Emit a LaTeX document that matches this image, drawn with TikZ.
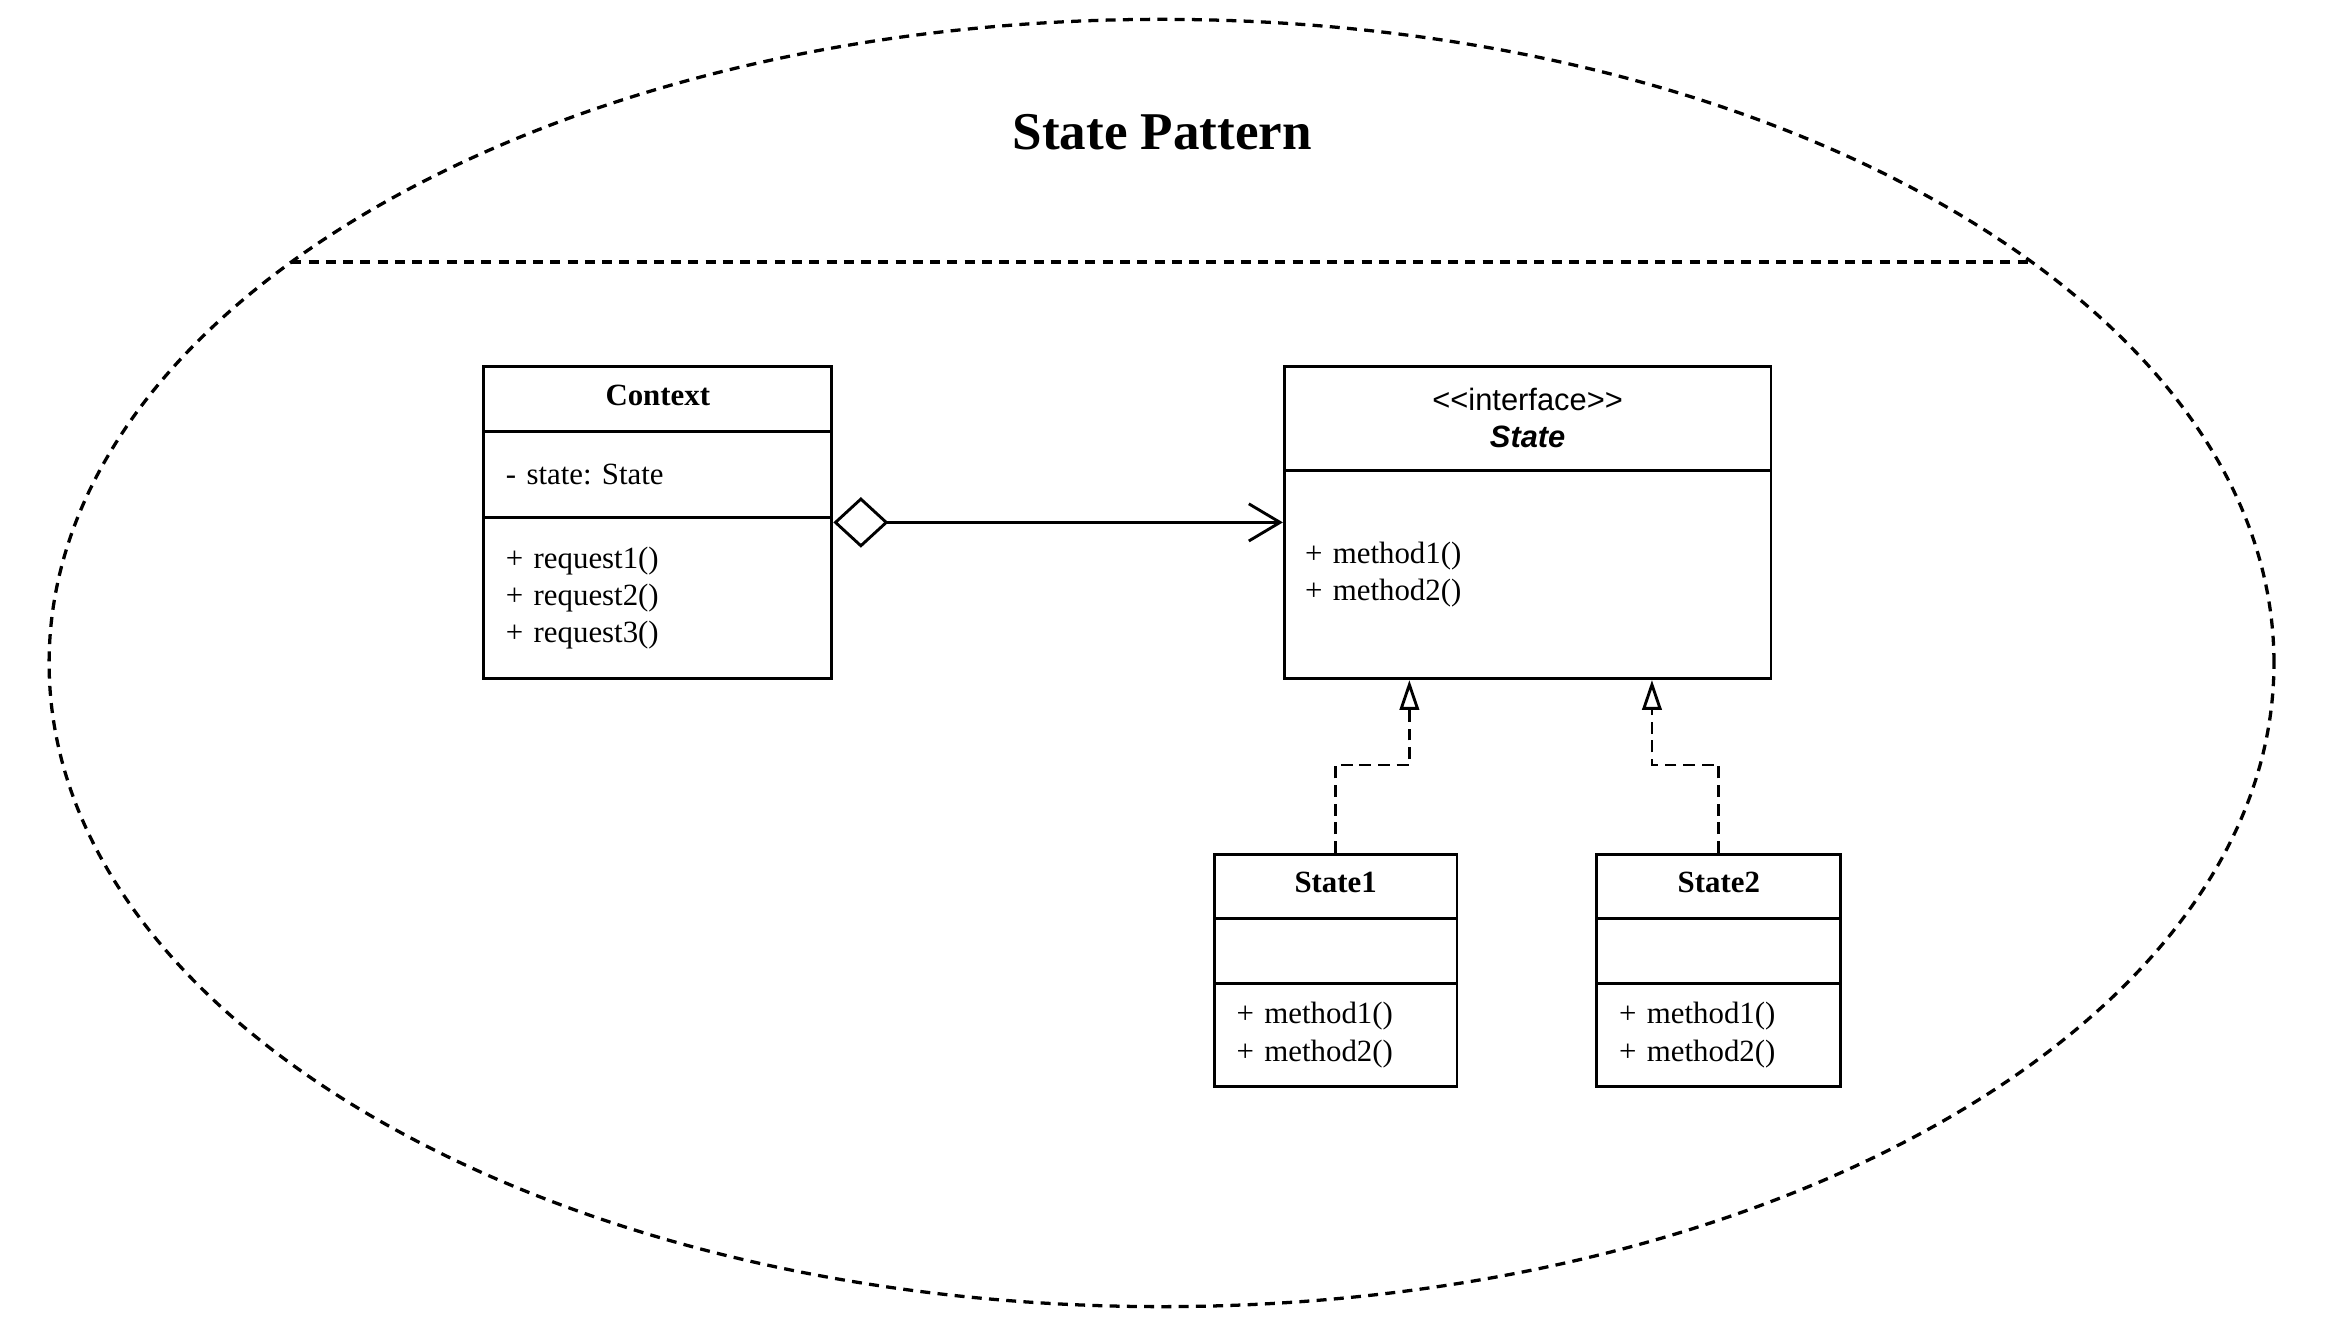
\documentclass[tikz,border=0pt]{standalone}
\usepackage{fontspec}
\setmainfont{Liberation Serif}
\setsansfont{Liberation Sans}
\frenchspacing
\usepackage{tikz}
\usetikzlibrary{arrows.meta}
\pgfdeclarelayer{bg}
\pgfsetlayers{bg,main}
\tikzset{
    every node/.style={inner sep=0mm, font=\fontsize{11.8}{14.2}\selectfont}
}
\tikzset{box/.style={rectangle, draw, line width=1.1pt}}
\tikzset{classname/.style={box, font=\fontsize{11.8}{14.2}\selectfont\bfseries, text depth=0.6ex}}
\tikzset{members/.style={box, align=left, inner xsep=3mm}}
\tikzset{aggr/.style={line width=1.1pt, arrows={Diamond[open,length=7.4mm,width=6.8mm]-Straight Barb[length=4.2mm,width=5mm]}}}
\tikzset{realize/.style={line width=1.1pt, dash pattern=on 1.6mm off 0.9mm, arrows={-Triangle[open,length=4mm,width=2.6mm]}}}
\tikzset{frame/.style={line width=1.25pt, dash pattern=on 1.34mm off 0.98mm}}

\begin{document}
\begin{tikzpicture}
        \useasboundingbox (0cm, 0cm) rectangle (31.34cm, -17.713cm);
        \draw [frame] (15.61cm, -8.91cm) ellipse [x radius=14.95cm, y radius=8.65cm];
        \coordinate (sepL) at (3.916cm, -3.52cm);
        \coordinate (sepR) at (27.304cm, -3.52cm);
        \draw [frame] (sepL) -- (sepR);
        \node (title) [font=\fontsize{20.3}{24}\selectfont\bfseries] at (15.62cm, -1.78cm) {State Pattern};

        \node (ctx) [classname, minimum width=4.68cm, minimum height=0.88cm] at (8.84cm, -5.36cm) {Context};
        \node (ctxa) [members, minimum width=4.68cm, minimum height=1.16cm, text width=4.08cm] at (8.84cm, -6.38cm) {- state: State};
        \node (ctxm) [members, minimum width=4.68cm, minimum height=2.16cm, text width=4.08cm] at (8.84cm, -8.04cm) {+ request1()\\+ request2()\\+ request3()};

        \node (st) [box, align=center, minimum width=6.54cm, minimum height=1.4cm] at (20.53cm, -5.62cm) {\sffamily <\kern0pt<interface>\kern0pt>\\\sffamily\bfseries\itshape State};
        \node (stb) [members, minimum width=6.54cm, minimum height=2.8cm, text width=5.98cm, inner xsep=2.8mm] at (20.53cm, -7.72cm) {+ method1()\\+ method2()};

        \node (s1) [classname, minimum width=3.26cm, minimum height=0.86cm] at (17.95cm, -11.91cm) {State1};
        \node (s1a) [box, minimum width=3.26cm, minimum height=0.88cm] at (17.95cm, -12.78cm) {};
        \node (s1m) [members, minimum width=3.26cm, minimum height=1.38cm, text width=2.66cm] at (17.95cm, -13.91cm) {+ method1()\\+ method2()};

        \node (s2) [classname, minimum width=3.28cm, minimum height=0.86cm] at (23.1cm, -11.91cm) {State2};
        \node (s2a) [box, minimum width=3.28cm, minimum height=0.88cm] at (23.1cm, -12.78cm) {};
        \node (s2m) [members, minimum width=3.28cm, minimum height=1.38cm, text width=2.68cm] at (23.1cm, -13.91cm) {+ method1()\\+ method2()};

        \coordinate (agg) at ([yshift=-0.08cm]ctxm.north east);
        \coordinate (r1) at ([xshift=1.7cm]stb.south west);
        \coordinate (r2) at ([xshift=4.96cm]stb.south west);
        \begin{pgfonlayer}{bg}
                \draw [aggr] (agg) -- (agg -| stb.west);
                \draw [realize] (s1.north) -- ++(0cm, 1.18cm) -| (r1);
                \draw [realize] (s2.north) -- ++(0cm, 1.18cm) -| (r2);
        \end{pgfonlayer}
\end{tikzpicture}
\end{document}
